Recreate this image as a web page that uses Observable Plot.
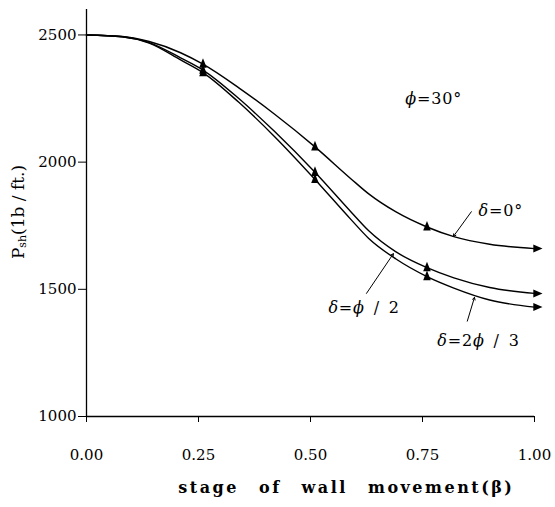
<!DOCTYPE html>
<html><head><meta charset="utf-8">
<script src="https://cdn.jsdelivr.net/npm/d3@7"></script>
<script src="https://cdn.jsdelivr.net/npm/@observablehq/plot@0.6"></script>
<style>body{margin:0;background:#fff}</style>
</head><body><div id="chart"></div>
<script>
// stage of wall movement (β) sampled along the curves
const stage = [0, 0.08, 0.14, 0.21, 0.26, 0.34, 0.42, 0.51, 0.59, 0.63, 0.69, 0.76, 0.82, 0.90, 1.00];
// P_sh (lb/ft) for each wall friction angle
const delta0 = [2500, 2494, 2474, 2430, 2385, 2292, 2188, 2060, 1935, 1875, 1805, 1745, 1707, 1677, 1660];
const deltaHalf = [2500, 2493, 2470, 2410, 2362, 2250, 2120, 1960, 1805, 1730, 1648, 1585, 1545, 1507, 1484];
const deltaTwoThirds = [2500, 2493, 2468, 2402, 2352, 2235, 2100, 1932, 1775, 1700, 1620, 1550, 1505, 1458, 1430];
const seriesNames = ["δ=0°", "δ=ϕ / 2", "δ=2ϕ / 3"];
const markerStages = [0.26, 0.51, 0.76];
const endStage = 1.00;
const xTicks = [0, 0.25, 0.5, 0.75, 1];
const yTicks = [1000, 1500, 2000, 2500];
// annotation anchor points (data units)
const labelStage = [0.875, 0.54, 0.783];
const labelP = [1809, 1426, 1297];
const pointerFromStage = [0.859, 0.625, 0.85];
const pointerFromP = [1805, 1484, 1375];
const pointerToStage = [0.819, 0.685, 0.866];
const pointerToP = [1708, 1640, 1468];
const phiLabel = "ϕ=30°";
const phiStage = 0.775, phiP = 2250;
const xLabel = "stage of wall movement(β)";

const seriesValues = [delta0, deltaHalf, deltaTwoThirds];
const rows = seriesValues.flatMap((vals, s) => stage.map((x, i) => ({series: seriesNames[s], stage: x, p: vals[i]})));
const markerRows = rows.filter(d => markerStages.includes(d.stage));
const endRows = rows.filter(d => d.stage === endStage);
const labels = seriesNames.map((t, i) => ({t, x: labelStage[i], y: labelP[i]}));
const pointers = seriesNames.map((t, i) => ({x1: pointerFromStage[i], y1: pointerFromP[i], x2: pointerToStage[i], y2: pointerToP[i]}));

const triUp = {draw(ctx, size) {
  const r = Math.sqrt(size / Math.PI);
  ctx.moveTo(0, -r * 1.5); ctx.lineTo(r * 0.95, r * 0.9); ctx.lineTo(-r * 0.95, r * 0.9); ctx.closePath();
}};
const arrowRight = {draw(ctx, size) {
  const r = Math.sqrt(size / Math.PI);
  ctx.moveTo(r * 2, 0); ctx.lineTo(-r * 0.3, -r); ctx.lineTo(-r * 0.3, r); ctx.closePath();
}};

const chart = Plot.plot({
  width: 555, height: 507,
  marginLeft: 86, marginRight: 21, marginTop: 9, marginBottom: 91,
  style: {fontFamily: "DejaVu Serif", fontSize: "15px", background: "white", color: "black"},
  x: {domain: [0, 1], ticks: xTicks, tickFormat: d3.format(".2f"), tickSize: 6, tickPadding: 27, label: null},
  y: {domain: [1000, 2600], ticks: yTicks, tickFormat: d3.format("d"), tickSize: 8, tickPadding: 2, label: null},
  marks: [
    Plot.ruleX([0], {stroke: "black", strokeWidth: 1.3}),
    Plot.ruleY([1000], {stroke: "black", strokeWidth: 1.3}),
    Plot.line(rows, {x: "stage", y: "p", z: "series", curve: "monotone-x", stroke: "black", strokeWidth: 1.4}),
    Plot.dot(markerRows, {x: "stage", y: "p", symbol: triUp, r: 4, fill: "black", stroke: null}),
    Plot.dot(endRows, {x: "stage", y: "p", symbol: arrowRight, r: 4, fill: "black", stroke: null}),
    Plot.arrow(pointers, {x1: "x1", y1: "y1", x2: "x2", y2: "y2", stroke: "black", strokeWidth: 1, headLength: 4}),
    Plot.text(labels, {x: "x", y: "y", text: "t", textAnchor: "start", fontSize: 16, fill: "black"}),
    Plot.text([phiLabel], {x: phiStage, y: phiP, text: d => d, textAnchor: "middle", fontSize: 16, fill: "black"}),
    Plot.text([xLabel], {x: 0.58, frameAnchor: "bottom", dy: 76, text: d => d, fontSize: 16, fontWeight: "bold", fill: "black"})
  ]
});
document.getElementById("chart").append(chart);

const svg = d3.select(chart);
svg.selectAll("text").filter(function() { return this.textContent === xLabel; })
  .style("letter-spacing", "2.5px").style("word-spacing", "12px");
// italicise Greek letters inside annotation texts
const annTexts = new Set([...seriesNames, phiLabel]);
svg.selectAll("text").filter(function() { return annTexts.has(this.textContent) && !this.querySelector("tspan"); })
  .each(function() {
    const s = this.textContent;
    const el = d3.select(this).text("").style("letter-spacing", "0.8px").style("word-spacing", "3px");
    for (const ch of s) {
      const t = el.append("tspan").text(ch);
      if (/[δϕ]/.test(ch)) t.attr("font-style", "italic");
    }
  });
const yl = svg.append("text")
  .attr("transform", "translate(19,212) rotate(-90)")
  .attr("text-anchor", "middle").attr("dominant-baseline", "middle")
  .attr("font-family", "DejaVu Serif").attr("font-size", 17).attr("fill", "black");
yl.append("tspan").text("P");
yl.append("tspan").attr("font-size", 11).attr("dy", 4).text("sh");
yl.append("tspan").attr("dy", -4).text("(1b / ft.)");
</script>
</body></html>
